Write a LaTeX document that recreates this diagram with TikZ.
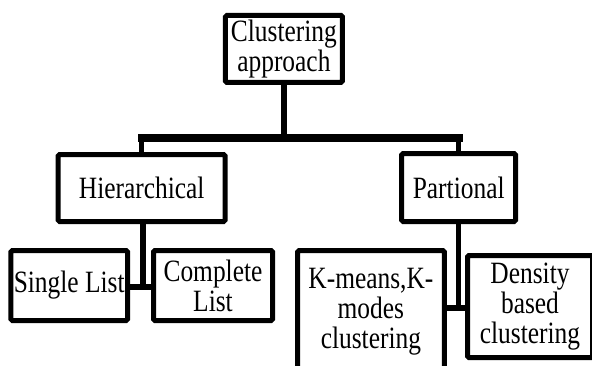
\documentclass[tikz,border=0pt]{standalone}
\usepackage{fontspec}
\setmainfont{Liberation Serif}[FakeStretch=0.82]

\begin{document}
\begin{tikzpicture}[
    x=1pt, y=1pt,
    box/.style={draw, line width=5pt, rounded corners=1.5pt, align=center, inner sep=2pt, font=\fontsize{31}{30}\selectfont},
    link/.style={line width=5.5pt},
    bar/.style={line width=8pt, line cap=rect}
]
    \useasboundingbox (0,0) rectangle (592,-365);

    % Root
    \node[box, minimum width=117pt, minimum height=67pt] (root) at (283.9,-48.9) {Clustering\\approach};

    % Main branches
    \node[box, minimum width=167pt, minimum height=67pt] (hier) at (141.7,-188) {Hierarchical};
    \node[box, minimum width=114pt, minimum height=68pt] (part) at (458.7,-187.5) {Partional};

    % Hierarchical children
    \node[box, minimum width=116.7pt, minimum height=70pt] (single) at (69.2,-285.5) {Single List};
    \node[box, minimum width=119pt, minimum height=70pt] (complete) at (213,-285.5) {Complete\\List};

    % Partional children
    \node[box, minimum width=146.7pt, minimum height=123pt] (kmeans) at (370.9,-312) {K-means,K-\\modes\\clustering};
    \node[box, minimum width=125pt, minimum height=102pt] (density) at (530,-306.5) {Density\\based\\clustering};

    % Joints
    \coordinate (split) at (283.9,-137.5);
    \coordinate (hjoin) at (143,-287);
    \coordinate (pjoin) at (458.7,-308);

    % Connectors
    \draw[link] (root) -- (split);
    \draw[bar] (split -| hier) -- (split -| part);
    \draw[link] (split -| hier) -- (hier);
    \draw[link] (split -| part) -- (part);
    \draw[link] (hier.south -| hjoin) -- (hjoin);
    \draw[link] (single.east |- hjoin) -- (complete.west |- hjoin);
    \draw[link] (part) -- (pjoin);
    \draw[link] (kmeans.east |- pjoin) -- (density.west |- pjoin);

\end{tikzpicture}
\end{document}
